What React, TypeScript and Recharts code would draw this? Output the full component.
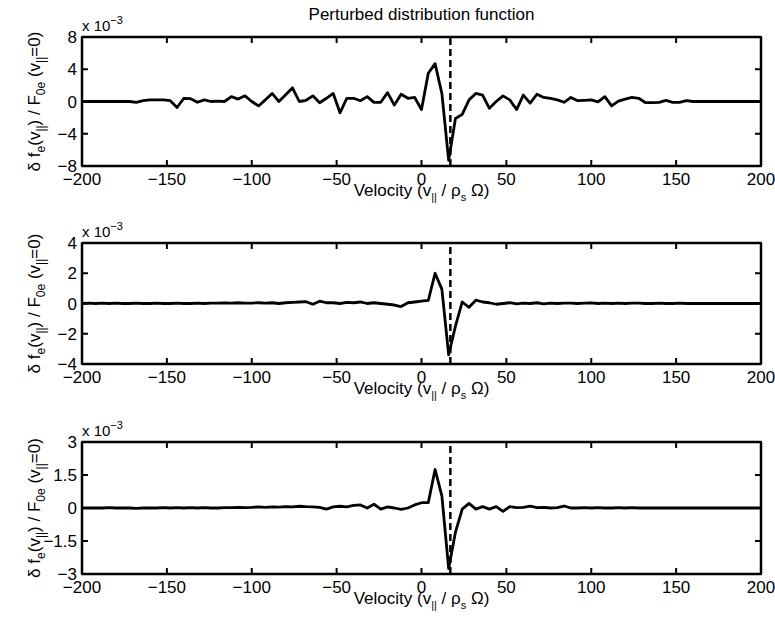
import { LineChart, Line, XAxis, YAxis, ReferenceLine } from "recharts"

// parallel velocity grid (v_|| / rho_s Omega)
const velocity = [
  -200, -196, -192, -188, -184, -180, -176, -172, -168, -164,
  -160, -156, -152, -148, -144, -140, -136, -132, -128, -124,
  -120, -116, -112, -108, -104, -100, -96, -92, -88, -84,
  -80, -76, -72, -68, -64, -60, -56, -52, -48, -44,
  -40, -36, -32, -28, -24, -20, -16, -12, -8, -4,
  0, 4, 8, 12, 16, 20, 24, 28, 32, 36,
  40, 44, 48, 52, 56, 60, 64, 68, 72, 76,
  80, 84, 88, 92, 96, 100, 104, 108, 112, 116,
  120, 124, 128, 132, 136, 140, 144, 148, 152, 156,
  160, 164, 168, 172, 176, 180, 184, 188, 192, 196,
  200,
]

// delta f_e / F_0e, in units of 1e-3
const dfTop = [
  0, 0, 0, 0, 0, 0, 0, 0, -0.1, 0.1,
  0.2, 0.2, 0.2, 0.1, -0.75, 0.4, 0.35, -0.1, 0.2, 0,
  0.05, 0, 0.6, 0.3, 0.7, 0, -0.55, 0.2, 1.0, 0,
  0.85, 1.7, 0, 0.15, 0.7, -0.15, 0.4, 1.0, -1.4, 0.4,
  0.4, 0.1, 0.6, -0.1, -0.1, 1.1, -0.45, 0.9, 0.4, 0.5,
  -1.0, 3.5, 4.7, 1.0, -7.3, -2.1, -1.6, 0.2, 1.0, 0.8,
  -0.85, 0, 0.7, 0.2, -1.0, 0.8, -0.2, 0.9, 0.5, 0.4,
  0.2, -0.1, 0.5, 0.1, 0.15, 0.2, -0.05, 0.6, -0.55, 0.05,
  0.3, 0.5, 0.4, -0.15, -0.15, -0.1, 0.15, -0.1, -0.1, 0.1,
  0, 0, 0, 0, 0, 0, 0, 0, 0, 0,
  0,
]

const dfMid = [
  0, 0.02, 0, 0.02, 0, 0.02, 0, 0, 0.02, 0,
  0, 0.02, 0, 0, 0.02, 0, 0, 0.02, 0, 0.03,
  0.02, 0.04, 0.02, 0.05, 0.03, 0.03, 0.05, 0.02, 0.05, 0,
  0.05, 0.08, 0.1, 0.12, -0.05, 0.15, 0.05, 0.05, 0, 0.08,
  0.05, 0.1, 0, 0.05, 0, -0.05, -0.1, -0.2, 0.05, 0.1,
  0.15, 0.2, 2.0, 0.95, -3.4, -1.5, 0.1, -0.25, 0.22, 0.1,
  0.05, -0.05, 0, 0.05, -0.03, 0.02, 0, 0.05, -0.02, 0.02,
  0, 0.02, 0.03, 0, 0.02, 0.04, 0, 0.02, 0, 0.02,
  0, 0.02, 0.03, 0, 0, 0.02, 0, 0, 0.02, 0,
  0, 0, 0, 0, 0, 0, 0, 0, 0, 0,
  0,
]

const dfBot = [
  0, 0, 0, 0, 0.02, 0, 0, 0, -0.02, 0,
  0, 0, 0.02, 0, 0.02, 0, 0.02, 0, 0.02, 0,
  0, 0.02, 0.02, 0.03, 0.02, 0.03, 0.05, 0.03, 0.05, 0.04,
  0.06, 0.05, 0.08, 0.06, 0.05, 0.03, -0.05, 0.05, 0.08, 0.05,
  0.12, 0.14, 0, 0.17, -0.05, 0.05, 0, -0.06, 0, 0.14,
  0.24, 0.24, 1.75, 0.55, -2.75, -1.1, -0.05, 0.21, -0.05, 0.06,
  -0.05, 0.06, -0.15, 0.06, 0.02, 0.03, 0.08, 0.02, 0.03, 0,
  0.02, 0.09, 0, 0, 0.02, 0, 0.02, 0, 0, 0.02,
  0, 0.02, 0, 0, 0, 0, 0, 0, 0, 0,
  0, 0, 0, 0, 0, 0, 0, 0, 0, 0,
  0,
]

const velocityTicks = [-200, -150, -100, -50, 0, 50, 100, 150, 200]
const topTicks = [-8, -4, 0, 4, 8]
const midTicks = [-4, -2, 0, 2, 4]
const botTicks = [-3, -1.5, 0, 1.5, 3]
const resonance = 17

const font = '"Liberation Sans", Arial, Helvetica, sans-serif'
const fmt = (t: number) => String(t).replace("-", "\u2212")

// layout of every panel (px)
const W = 775
const LEFT = 82
const RIGHT = 14
const TOP = 37
const XAXIS_H = 39
const TICK = 6
const BOX = 2.5
// recharts default tickSize (6) + tickMargin (2)
const OFF = 8

function XLab({ viewBox }: any) {
  const cx = viewBox.x + viewBox.width / 2
  const y = viewBox.y + 30
  return (
    <text x={cx} y={y} textAnchor="middle" fontSize={17} fontFamily={font} fill="#000">
      Velocity (v<tspan dy={5} fontSize={11}>||</tspan>
      <tspan dy={-5}> / ρ</tspan>
      <tspan dy={5} fontSize={11}>s</tspan>
      <tspan dy={-5}> Ω)</tspan>
    </text>
  )
}

function YLab({ viewBox, title }: any) {
  const x = viewBox.x + 40
  const cy = viewBox.y + viewBox.height / 2
  const top = viewBox.y
  const mid = LEFT + (W - LEFT - RIGHT) / 2
  return (
    <g>
      <text x={x} y={cy} transform={`rotate(-90 ${x} ${cy})`} textAnchor="middle" fontSize={17} fontFamily={font} fill="#000">
        δ f<tspan dy={5} fontSize={12}>e</tspan>
        <tspan dy={-5}>(v</tspan>
        <tspan dy={5} fontSize={12}>||</tspan>
        <tspan dy={-5}>) / F</tspan>
        <tspan dy={5} fontSize={12}>0e</tspan>
        <tspan dy={-5}> (v</tspan>
        <tspan dy={5} fontSize={12}>||</tspan>
        <tspan dy={-5}>=0)</tspan>
      </text>
      {title && (
        <text x={mid} y={top - 17} textAnchor="middle" fontSize={17} fontFamily={font} fill="#000">
          {title}
        </text>
      )}
      <text x={LEFT} y={top - 6} fontSize={15} fontFamily={font} fill="#000">
        x 10<tspan dy={-7} fontSize={11}>−3</tspan>
      </text>
    </g>
  )
}

// inward tick marks on bottom and top, plus the label
function VTick({ x, y, payload }: any) {
  const bottom = Number(y) - OFF
  return (
    <g>
      <path d={`M${x},${bottom}v${-TICK}M${x},${TOP}v${TICK}`} stroke="#000" strokeWidth={2} fill="none" />
      <text x={x} y={bottom + 19} textAnchor="middle" fontSize={17} fontFamily={font} fill="#000">
        {fmt(payload.value)}
      </text>
    </g>
  )
}

// inward tick marks on left and right, plus the label
function HTick({ x, y, payload }: any) {
  const left = Number(x) + OFF
  const right = W - RIGHT
  return (
    <g>
      <path d={`M${left},${y}h${TICK}M${right},${y}h${-TICK}`} stroke="#000" strokeWidth={2} fill="none" />
      <text x={left - 5} y={Number(y) + 6} textAnchor="end" fontSize={17} fontFamily={font} fill="#000">
        {fmt(payload.value)}
      </text>
    </g>
  )
}

const axisLine = { stroke: "#000", strokeWidth: 2.5 }

function Panel({ series, ticks, height, bottomGap, title }: any) {
  const data = velocity.map((v, i) => ({ v, df: series[i] }))
  const yDomain = [ticks[0], ticks[ticks.length - 1]]
  const plotH = height - bottomGap - XAXIS_H - TOP
  return (
    <div style={{ position: "relative", width: W, height }}>
      <LineChart width={W} height={height} data={data} margin={{ top: TOP, right: RIGHT, bottom: bottomGap, left: 0 }}>
        <XAxis
          dataKey="v"
          type="number"
          domain={[-200, 200]}
          ticks={velocityTicks}
          height={XAXIS_H}
          axisLine={axisLine}
          tickLine={false}
          tick={VTick}
          interval={0}
          label={(p: any) => <XLab {...p} />}
        />
        <YAxis
          type="number"
          domain={yDomain}
          ticks={ticks}
          width={LEFT}
          axisLine={axisLine}
          tickLine={false}
          tick={HTick}
          interval={0}
          label={(p: any) => <YLab {...p} title={title} />}
        />
        <ReferenceLine y={yDomain[1]} stroke="#000" strokeWidth={2.5} ifOverflow="visible" />
        <ReferenceLine x={200} stroke="#000" strokeWidth={2.5} ifOverflow="visible" />
        <ReferenceLine x={resonance} stroke="#000" strokeWidth={2.5} strokeDasharray="7 4" />
        <Line
          type="linear"
          dataKey="df"
          stroke="#000"
          strokeWidth={2.8}
          strokeLinejoin="round"
          dot={false}
          isAnimationActive={false}
        />
      </LineChart>
      {/* box frame around the plot area */}
      <div
        style={{
          position: "absolute",
          left: LEFT - BOX / 2,
          top: TOP - BOX / 2,
          width: W - LEFT - RIGHT + BOX,
          height: plotH + BOX,
          border: `${BOX}px solid #000`,
          boxSizing: "border-box",
          pointerEvents: "none",
        }}
      />
    </div>
  )
}

export default function App() {
  return (
    <div style={{ position: "absolute", left: 0, top: 0, width: 775, height: 620, background: "#fff" }}>
      <Panel series={dfTop} ticks={topTicks} height={206} bottomGap={1} title="Perturbed distribution function" />
      <Panel series={dfMid} ticks={midTicks} height={199} bottomGap={2} />
      <Panel series={dfBot} ticks={botTicks} height={208} bottomGap={0} />
    </div>
  )
}
